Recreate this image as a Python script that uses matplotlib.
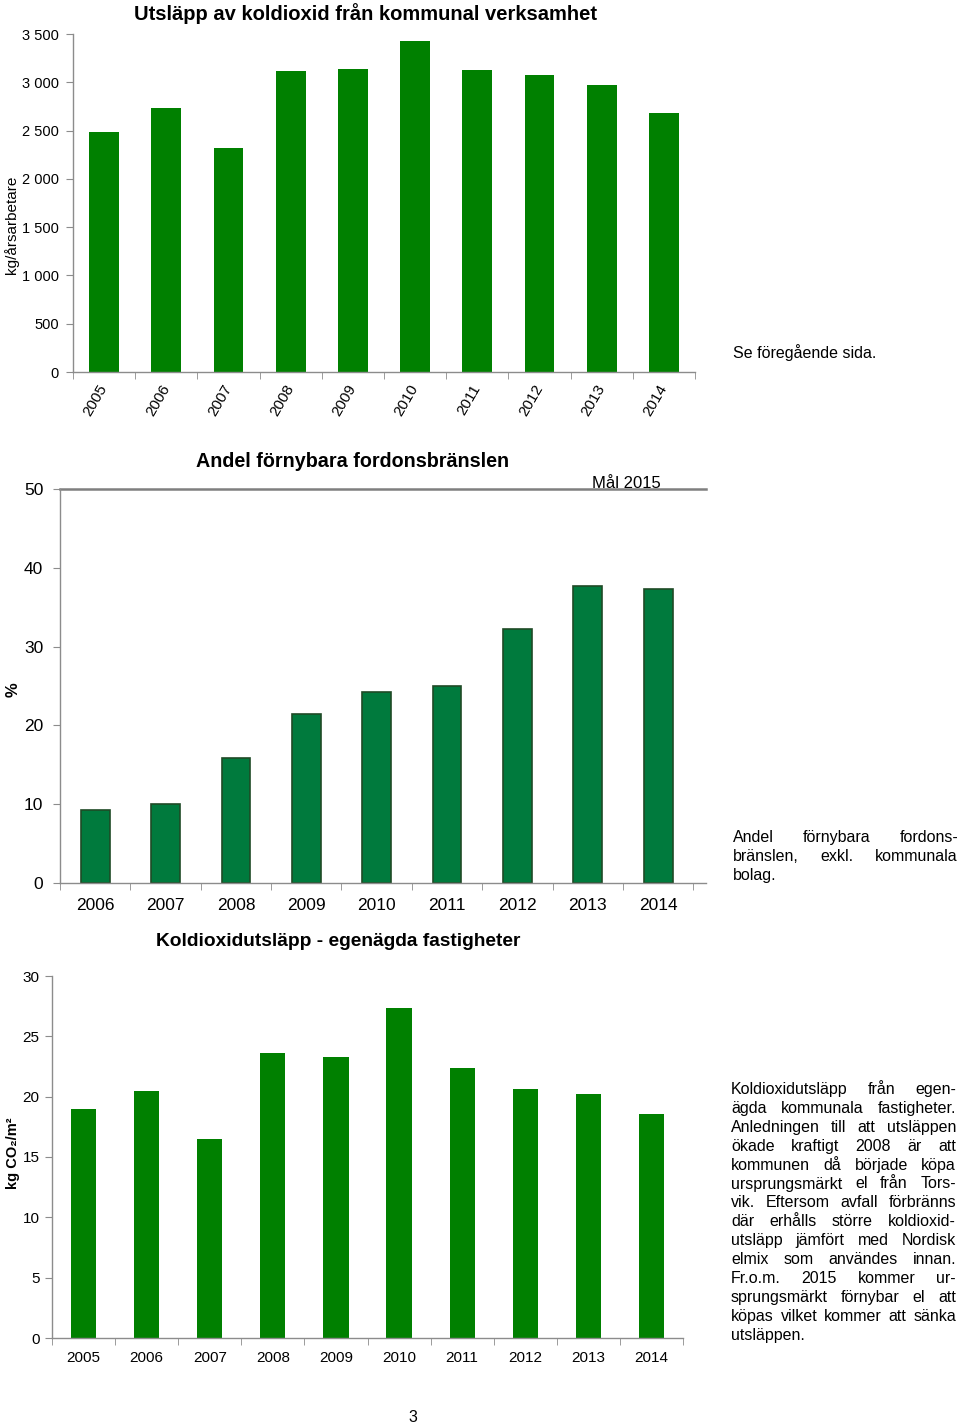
import matplotlib
matplotlib.use("Agg")
import matplotlib.pyplot as plt
from matplotlib.ticker import FuncFormatter, FixedLocator

W, H = 960, 1427

# ---------------- data ----------------
years1 = ['2005', '2006', '2007', '2008', '2009', '2010', '2011', '2012', '2013', '2014']
vals1 = [2490, 2736, 2321, 3113, 3133, 3424, 3126, 3078, 2971, 2680]

years2 = ['2006', '2007', '2008', '2009', '2010', '2011', '2012', '2013', '2014']
vals2 = [9.3, 10.0, 15.8, 21.4, 24.3, 25.0, 32.2, 37.7, 37.3]
goal2 = 50

years3 = ['2005', '2006', '2007', '2008', '2009', '2010', '2011', '2012', '2013', '2014']
vals3 = [19.0, 20.5, 16.5, 23.6, 23.3, 27.35, 22.35, 20.6, 20.2, 18.55]

NARROW = ['Liberation Sans Narrow', 'Liberation Sans', 'DejaVu Sans']
SANS = ['Liberation Sans', 'DejaVu Sans']
GREEN = '#008000'
GREEN2 = '#007A3D'
EDGE2 = '#1F4A26'
SPINE = '#8c8c8c'

fig = plt.figure(figsize=(W / 100, H / 100), dpi=100)
fig.patch.set_facecolor('white')


def rect(l, t, r, b):
    return [l / W, 1 - b / H, (r - l) / W, (b - t) / H]


def fy(y):
    return 1 - y / H


def style_axes(ax, n, xmax=None):
    for s in ('top', 'right'):
        ax.spines[s].set_visible(False)
    for s in ('left', 'bottom'):
        ax.spines[s].set_color(SPINE)
        ax.spines[s].set_linewidth(1.0)
    ax.set_xlim(-0.5, n - 0.5 if xmax is None else xmax)
    ax.xaxis.set_major_locator(FixedLocator(list(range(n))))
    ax.xaxis.set_minor_locator(FixedLocator([i - 0.5 for i in range(n + 1)]))
    ax.tick_params(axis='x', which='major', length=0)
    ax.tick_params(axis='x', which='minor', length=5, color=SPINE, direction='out')
    ax.tick_params(axis='y', length=5, color=SPINE, direction='out')


# ---------------- chart 1 ----------------
ax1 = fig.add_axes(rect(73, 34, 695, 372))
ax1.bar(range(len(years1)), vals1, width=0.48, color=GREEN)
ax1.set_ylim(0, 3500)
ax1.set_yticks(range(0, 3501, 500))
ax1.yaxis.set_major_formatter(FuncFormatter(lambda v, p: f"{int(v):,}".replace(',', ' ')))
style_axes(ax1, len(years1))
ax1.set_xticks(range(len(years1)))
ax1.set_xticklabels(years1, rotation=60, ha='right', va='center', rotation_mode='anchor',
                    fontsize=11, family=SANS)
ax1.tick_params(axis='x', which='major', pad=10)
ax1.tick_params(axis='y', labelsize=10.5, pad=5)
for lab in ax1.get_yticklabels():
    lab.set_family(SANS)
fig.text(366 / W, fy(14), 'Utsläpp av koldioxid från kommunal verksamhet', ha='center', va='center',
         fontsize=14.5, fontweight='bold', family=NARROW)
fig.text(12 / W, fy(225), 'kg/årsarbetare', rotation=90, ha='center', va='center',
         fontsize=11, family=SANS)

# ---------------- chart 2 ----------------
ax2 = fig.add_axes(rect(60, 489, 706, 883))
ax2.bar(range(len(years2)), vals2, width=0.41, color=GREEN2, edgecolor=EDGE2, linewidth=1.2)
ax2.set_ylim(0, 50)
ax2.set_yticks(range(0, 51, 10))
style_axes(ax2, len(years2), xmax=8.68)
ax2.set_xticks(range(len(years2)))
ax2.set_xticklabels(years2, fontsize=12.5, family=NARROW)
ax2.tick_params(axis='x', which='major', pad=11)
ax2.tick_params(axis='y', labelsize=12.5, pad=7)
for lab in ax2.get_yticklabels():
    lab.set_family(NARROW)
ax2.axhline(goal2, color='#7f7f7f', linewidth=1.8, clip_on=False)
ax2.text(0.877, goal2 + 0.15, 'Mål 2015', transform=ax2.get_yaxis_transform(), ha='center',
         va='baseline', fontsize=12, family=NARROW)
fig.text(353 / W, fy(462), 'Andel förnybara fordonsbränslen', ha='center', va='center',
         fontsize=14.2, fontweight='bold', family=NARROW)
fig.text(13 / W, fy(690), '%', rotation=90, ha='center', va='center', fontsize=12,
         fontweight='bold', family=SANS)

# ---------------- chart 3 ----------------
ax3 = fig.add_axes(rect(52, 976, 683, 1338))
ax3.bar(range(len(years3)), vals3, width=0.4, color=GREEN)
ax3.set_ylim(0, 30)
ax3.set_yticks(range(0, 31, 5))
style_axes(ax3, len(years3))
ax3.set_xticks(range(len(years3)))
ax3.set_xticklabels(years3, fontsize=11, family=NARROW)
ax3.tick_params(axis='x', which='major', pad=9)
ax3.tick_params(axis='y', labelsize=11, pad=4)
for lab in ax3.get_yticklabels():
    lab.set_family(NARROW)
fig.text(338 / W, fy(942), 'Koldioxidutsläpp - egenägda fastigheter', ha='center', va='center',
         fontsize=13.8, fontweight='bold', family=NARROW)
fig.text(13 / W, fy(1153), 'kg CO₂/m²', rotation=90, ha='center', va='center', fontsize=10.5,
         fontweight='bold', family=SANS)

# ---------------- side texts ----------------
BODY = 11.5


def justified(lines, x0, x1, ybase0, dy):
    renderer = fig.canvas.get_renderer()
    for i, line in enumerate(lines):
        yb = fy(ybase0 + i * dy)
        if i == len(lines) - 1:
            fig.text(x0 / W, yb, line, fontsize=BODY, family=SANS, va='baseline')
            continue
        words = line.split()
        texts = [fig.text(0, yb, w, fontsize=BODY, family=SANS, va='baseline') for w in words]
        widths = [t.get_window_extent(renderer).width for t in texts]
        gap = (x1 - x0 - sum(widths)) / max(len(words) - 1, 1)
        x = x0
        for t, w in zip(texts, widths):
            t.set_x(x / W)
            x += w + gap


fig.text(733 / W, fy(358), 'Se föregående sida.', fontsize=BODY, family=SANS, va='baseline')

justified(['Andel förnybara fordons-',
           'bränslen, exkl. kommunala',
           'bolag.'], 733, 958, 842, 19)

justified(['Koldioxidutsläpp från egen-',
           'ägda kommunala fastigheter.',
           'Anledningen till att utsläppen',
           'ökade kraftigt 2008 är att',
           'kommunen då började köpa',
           'ursprungsmärkt el från Tors-',
           'vik. Eftersom avfall förbränns',
           'där erhålls större koldioxid-',
           'utsläpp jämfört med Nordisk',
           'elmix som användes innan.',
           'Fr.o.m. 2015 kommer ur-',
           'sprungsmärkt förnybar el att',
           'köpas vilket kommer att sänka',
           'utsläppen.'], 731, 956, 1094, 18.9)

fig.text(413 / W, fy(1418), '3', fontsize=BODY, family=SANS, ha='center', va='center')

fig.savefig('out.png', dpi=100, facecolor='white')
